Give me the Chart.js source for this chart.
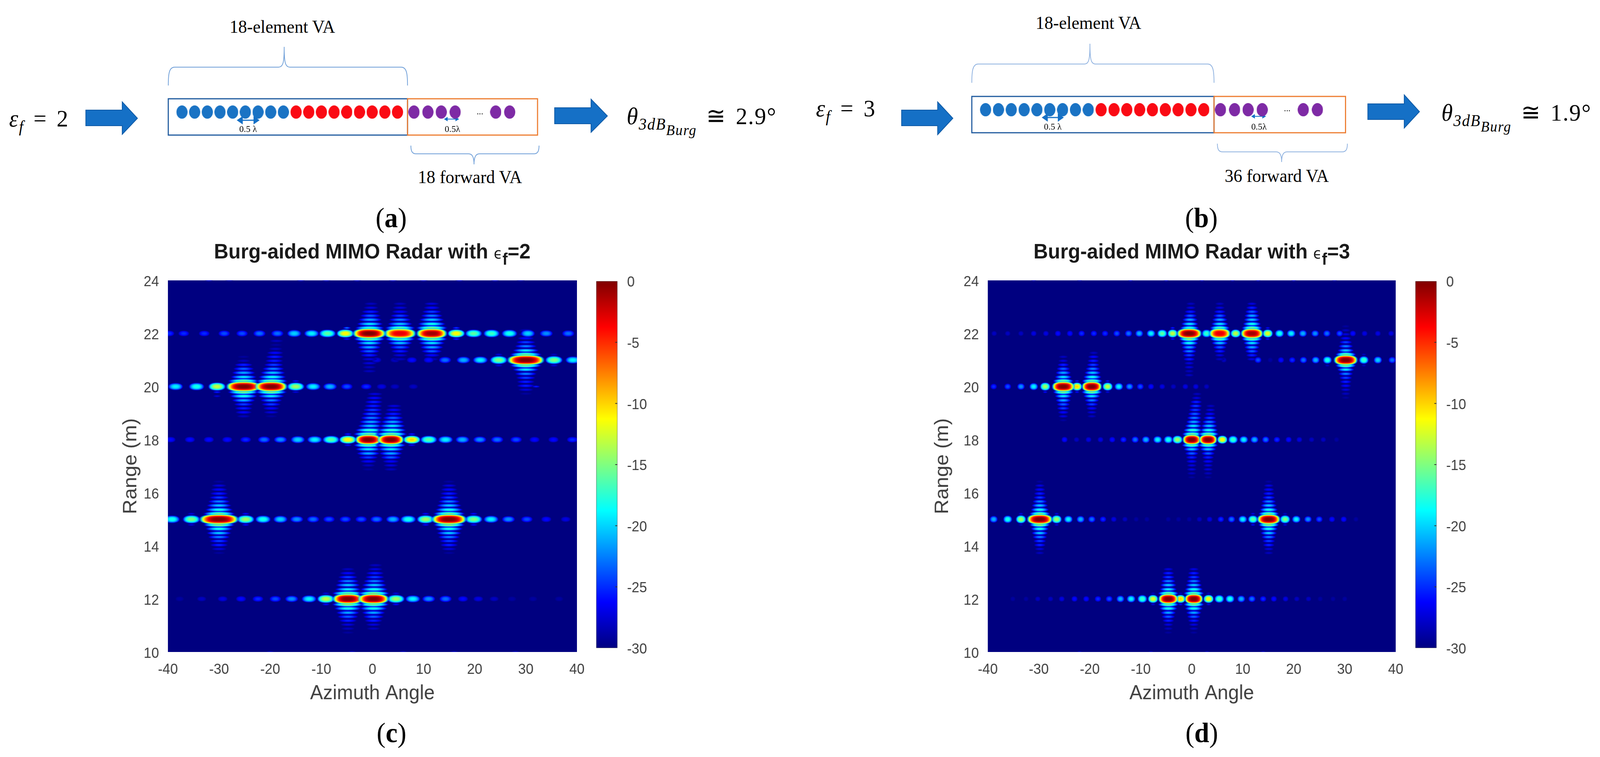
<!DOCTYPE html>
<html>
<head>
<meta charset="utf-8">
<title>Burg-aided MIMO Radar</title>
<script src="https://cdn.jsdelivr.net/npm/chart.js@4/dist/chart.umd.min.js"></script>
<style>
html,body{margin:0;background:#fff;overflow:hidden}
#page{position:relative;width:4307px;height:1939px;overflow:hidden;background:#fff;transform-origin:0 0}
canvas{position:absolute}
svg{position:absolute;left:0;top:0}
.t{position:absolute;transform:translate(-50%,-50%);white-space:nowrap;font-family:"Liberation Serif",serif;color:#000;line-height:1}
.l{transform:translateY(-50%)}
.title{font-family:"Liberation Sans",sans-serif;font-weight:bold;font-size:54px;color:#1a1a1a}
.title i{font-family:"DejaVu Sans",sans-serif;font-style:normal;font-weight:normal;font-size:38px}
.title sub{font-size:42px;line-height:0;vertical-align:-16px}
.math{font-size:62px;letter-spacing:2px;word-spacing:8px}
.math sub{font-size:42px;line-height:0;vertical-align:-14px;font-style:italic}
.math sub sub{font-size:38px;vertical-align:-14px}
.va{font-size:47px}
.cap{font-size:72px}
.small{font-size:24px}
</style>
</head>
<body>
<div id="page">
<svg width="4307" height="1939" fill="none">
  <!-- panel a -->
  <path d="M453 219C453 190 455 172 470 172H750C762 172 765 160 765 120C765 160 768 172 780 172H1080C1095 172 1097 190 1097 219" stroke="#6f9fd8" stroke-width="2"/>
  <path d="M1106 373C1106 388 1110 394 1120 394H1262C1272 394 1276 405 1276 421C1276 405 1280 394 1290 394H1437C1447 394 1451 388 1451 373" stroke="#6f9fd8" stroke-width="2"/>
  <rect x="453" y="253" width="644" height="93" stroke="#1f5a9e" stroke-width="3"/>
  <rect x="1097" y="253" width="350" height="93" stroke="#ed7d31" stroke-width="3"/>
  <path d="M231 282H329V261L370 303L329 344V322H231Z" fill="#1570c6" stroke="#0f5aa6" stroke-width="2"/>
  <path d="M1493 276H1591V254L1635 297L1591 339V317H1493Z" fill="#1570c6" stroke="#0f5aa6" stroke-width="2"/>
  <path d="M640 308H696M640 308L652 300V316ZM696 308L684 300V316Z" stroke="#1570c6" stroke-width="3" fill="#1570c6"/>
  <path d="M1197 305H1234M1197 305L1204 301V309ZM1234 305L1227 301V309Z" stroke="#1570c6" stroke-width="2" fill="#1570c6"/>
  <!-- panel b -->
  <path d="M2616 212C2616 183 2618 164 2633 164H2920C2931 164 2934 152 2934 112C2934 152 2937 164 2948 164H3251C3266 164 3268 183 3268 212" stroke="#8fb2e0" stroke-width="2"/>
  <path d="M3277 368C3277 383 3281 389 3291 389H3436C3446 389 3450 400 3450 415C3450 400 3454 389 3464 389H3613C3623 389 3627 383 3627 368" stroke="#8fb2e0" stroke-width="2"/>
  <rect x="2616" y="247" width="652" height="93" stroke="#1f5a9e" stroke-width="3"/>
  <rect x="3268" y="247" width="354" height="93" stroke="#ed7d31" stroke-width="3"/>
  <path d="M2427 282H2524V261L2565 303L2524 345V322H2427Z" fill="#1570c6" stroke="#0f5aa6" stroke-width="2"/>
  <path d="M3682 266H3780V243L3821 286L3780 328V306H3682Z" fill="#1570c6" stroke="#0f5aa6" stroke-width="2"/>
  <path d="M2807 301H2861M2807 301L2819 293V309ZM2861 301L2849 293V309Z" stroke="#1570c6" stroke-width="3" fill="#1570c6"/>
  <path d="M3370 298H3406M3370 298L3377 294V302ZM3406 298L3399 294V302Z" stroke="#1570c6" stroke-width="2" fill="#1570c6"/>
</svg>

<canvas id="arrayA" width="994" height="93" style="left:453px;top:253px"></canvas>
<canvas id="arrayB" width="1006" height="93" style="left:2616px;top:247px"></canvas>
<canvas id="heatC" width="1273" height="1130" style="left:320px;top:680px"></canvas>
<canvas id="barC" width="170" height="1020" style="left:1600px;top:680px"></canvas>
<canvas id="heatD" width="1292" height="1130" style="left:2505px;top:680px"></canvas>
<canvas id="barD" width="170" height="1020" style="left:3805px;top:680px"></canvas>

<div class="t va" style="left:760px;top:68px">18-element VA</div>
<div class="t va" style="left:1265px;top:453px">18 forward VA</div>
<div class="t math" style="left:105px;top:303px"><i>ε<sub>f</sub></i> = 2</div>
<div class="t l math" style="left:1687px;top:299px"><i>θ<sub>3dB<sub>Burg</sub></sub></i> ≅ 2.9°</div>
<div class="t small" style="left:668px;top:330px">0.5 λ</div>
<div class="t small" style="left:1218px;top:330px">0.5λ</div>
<div class="t small" style="left:1292px;top:285px">...</div>
<div class="t cap" style="left:1053px;top:558px">(<b>a</b>)</div>

<div class="t va" style="left:2930px;top:58px">18-element VA</div>
<div class="t va" style="left:3437px;top:450px">36 forward VA</div>
<div class="t math" style="left:2277px;top:277px"><i>ε<sub>f</sub></i> = 3</div>
<div class="t l math" style="left:3880px;top:290px"><i>θ<sub>3dB<sub>Burg</sub></sub></i> ≅ 1.9°</div>
<div class="t small" style="left:2834px;top:324px">0.5 λ</div>
<div class="t small" style="left:3389px;top:324px">0.5λ</div>
<div class="t small" style="left:3465px;top:277px">...</div>
<div class="t cap" style="left:3234px;top:558px">(<b>b</b>)</div>

<div class="t title" style="left:1002px;top:643px">Burg-aided MIMO Radar with <i>ϵ</i><sub>f</sub>=2</div>
<div class="t title" style="left:3208px;top:643px">Burg-aided MIMO Radar with <i>ϵ</i><sub>f</sub>=3</div>
<div class="t cap" style="left:1054px;top:1877px">(<b>c</b>)</div>
<div class="t cap" style="left:3235px;top:1877px">(<b>d</b>)</div>
</div>

<script>
// the window can be narrower than the 4307px layout, squeeze to fit
if(innerWidth<4307) document.getElementById('page').style.transform=`scaleX(${innerWidth/4307})`;

// tick labels
const azimuthTicks = [-40,-30,-20,-10,0,10,20,30,40];
const rangeTicks = [10,12,14,16,18,20,22,24];
const dbTicks = [-30,-25,-20,-15,-10,-5,0];
const colorRange = [-30,0];

// array elements (position in half wavelength steps)
const blueElements = [0,1,2,3,4,5,6,7,8];
const redElements = [9,10,11,12,13,14,15,16,17];
const purpleElements = [18.3,19.4,20.45,21.55,24.75,25.85];

// stripes above and below a peak sit at these range offsets (m)
const fringeOffsets = [0.21,0.36,0.52,0.67,0.82,0.97,1.12,1.27,1.42,1.57,1.72,1.87];

// panel c, side lobes on each range line: [azimuth, dB]
const lobesC22 = [[-39.8,-25],[-36.9,-25],[-32.9,-25],[-29,-24],[-25.5,-24],[-22.1,-23],[-18.6,-23],[-15.3,-20],[-11.9,-19],[-8.8,-16],[-5.3,-11],[16.4,-11],[19.8,-16],[23.3,-17],[26.8,-18],[30.4,-20],[34,-22],[38.3,-23]];
const lobesC21 = [[0.8,-27],[4.4,-28],[7.7,-26],[11,-26],[14.2,-23],[17.8,-21],[21.1,-19],[24.7,-15],[35.5,-15],[39.2,-19]];
const lobesC20 = [[-38.5,-19],[-34.4,-18],[-30.4,-13],[-15,-14],[-11.6,-19],[-8.3,-21],[-5,-24],[-1.2,-25],[1.8,-27],[4.4,-28],[8,-28]];
const lobesC18 = [[-39.5,-26],[-35.7,-26],[-32,-26],[-28.4,-26],[-24.8,-25],[-21.2,-23],[-18,-22],[-14.6,-20],[-11.3,-19],[-8.1,-16],[-4.8,-11],[7.7,-10],[11,-16],[14.3,-19],[17.6,-21],[21,-22],[24.4,-23],[28.1,-24],[31.7,-26],[35.4,-26],[39.1,-25]];
const lobesC15 = [[-39.2,-18],[-35.4,-15],[-24.8,-14],[-21.4,-18],[-18,-20],[-14.8,-22],[-11.6,-23],[-8.5,-24],[-5.3,-24],[-2.2,-24],[0.8,-23],[4,-21],[7,-18],[10.4,-14],[19.8,-15],[23.2,-19],[26.6,-22],[30.2,-24],[34,-26],[37.8,-27]];
const lobesC12 = [[-37.7,-29],[-33.4,-28],[-29.3,-27],[-25.7,-26],[-22.4,-25],[-19,-24],[-15.8,-22],[-12.4,-19],[-9.1,-13],[4.6,-14],[7.9,-19],[11,-22],[14.3,-23],[17.7,-26],[20.7,-27],[23.8,-28],[27.3,-29],[31.4,-29],[36.5,-29]];

// panel c, peaks: [azimuth, range, dB, lobe width in degrees, stripes above, stripes below, stripe drift in deg per m]
const peaksC = [
  [-0.6,22,0,5.6,[-17,-19,-21,-23,-25,-27,-28],[-15,-19,-21,-23,-25,-27,-27,-28,-28],0.3],
  [5.4,22,-3,5.4,[-16,-20,-22,-24,-26,-27,-28],[-16,-20,-23,-25,-27,-28],0],
  [11.6,22,-1,5.2,[-15,-18,-20,-22,-24,-26,-27],[-15,-19,-21,-23,-26,-28],0],
  [30,21,0,6.2,[-15,-19,-22,-24,-26,-27,-28],[-15,-19,-22,-24,-25,-25,-27,-29],0],
  [-25.2,20,0,5.8,[-15,-19,-21,-23,-25,-28,-29],[-15,-18,-21,-24,-25,-26,-28],0],
  [-19.8,20,0,5.4,[-15,-18,-20,-22,-24,-25,-25,-26,-28,-29,-28],[-15,-19,-22,-24,-26,-27,-29],0.6],
  [-0.8,18,0,4.4,[-15,-17,-20,-21,-22,-23,-24,-25,-25,-26,-27],[-16,-19,-21,-24,-26,-28,-29],0.75],
  [3.6,18,0,4.4,[-15,-17,-19,-21,-23,-25,-26,-27],[-16,-19,-21,-23,-26,-27,-28],0.5],
  [-30,15,0,6.6,[-15,-18,-20,-22,-24,-25,-26,-27,-29],[-14,-18,-20,-22,-24,-25,-27,-29],0],
  [15,15,0,5.9,[-15,-18,-20,-22,-24,-25,-26,-27,-29],[-14,-18,-20,-22,-24,-25,-27,-29],0],
  [-4.8,12,0,5.1,[-15,-19,-20,-22,-24,-26,-28],[-14,-18,-21,-23,-25,-27,-28,-29],0],
  [0.2,12,0,5.2,[-14,-18,-20,-22,-24,-25,-27,-28],[-15,-18,-21,-23,-25,-27,-28],0.3]
];

// panel c, small marks away from the lines: [azimuth, range, dB]
const specklesC = [[-35.4,15.21,-27],[-35.4,14.79,-27],[-24.8,15.21,-26],[-24.8,14.79,-26],[10.4,15.21,-26],[10.4,14.79,-26],[19.8,15.21,-26],[19.8,14.79,-26],[-9.1,12.21,-27],[4.6,12.21,-27],[-9.1,11.79,-26],[4.6,11.79,-26],[-5,22.21,-22],[-5,21.79,-26],[16.4,22.21,-24],[16.4,21.79,-25],[-30.4,19.79,-25],[-30.4,19.64,-27],[-15,20.21,-26],[-15,19.79,-27],[32,20,-25],[29.5,19.88,-28],[-4.8,18.21,-25],[7.7,18.21,-25],[-4.8,17.79,-26],[7.7,17.79,-26],[35.5,21.21,-28],[24.7,21.21,-27],[35.5,20.79,-27],[24.7,20.79,-27],
  [-32,24,-27],[-28,24,-28],[-14,24,-27],[-9,24,-27],[-3,24,-27],[4,24,-27],[10,24,-27],[17,24,-27],[24,24,-27],[29,24,-28],[-20,10,-28],[-4,10,-28],[6,10,-28],[16,10,-28],[28,10,-28]];

// panel d, side lobes: [azimuth, dB]
const lobesD22 = [[-38.75,-28],[-36.1,-28],[-33.5,-28],[-31,-27],[-28.6,-27],[-26.25,-26],[-23.9,-26],[-21.6,-25],[-19.2,-25],[-17,-25],[-14.7,-24],[-12.4,-23],[-10.3,-21],[-8,-19],[-5.8,-16],[-3.75,-13],[2.9,-17],[8.6,-13],[14.9,-12],[17.2,-18],[19.5,-19],[21.8,-21],[24.2,-22],[26.5,-23],[29,-24],[31.6,-26],[33.9,-27],[36.5,-27],[39.1,-27]];
const lobesD21 = [[6.3,-28],[13,-24],[15.4,-29],[17.5,-26],[19.7,-25],[21.9,-23],[24.3,-21],[26.6,-18],[33.75,-17],[36.5,-20],[39.3,-23]];
const lobesD20 = [[-38.85,-25],[-36.1,-24],[-33.5,-22],[-31,-19],[-28.75,-14],[-22.5,-10],[-16.5,-13],[-14.3,-19],[-12.2,-22],[-10.1,-24],[-8,-26],[-5.8,-27],[-3.6,-28],[-1.25,-27],[0.8,-27],[2.9,-28]];
const lobesD18 = [[-24.95,-26],[-22.6,-28],[-20.25,-27],[-17.9,-27],[-15.6,-26],[-13.4,-25],[-11.1,-23],[-9,-21],[-6.7,-19],[-4.6,-18],[-2.8,-14],[6,-11],[8.1,-17],[10.2,-19],[12.3,-21],[14.5,-23],[16.7,-25],[19,-26],[21.1,-27],[23.5,-28],[25.8,-28],[28.4,-29]];
const lobesD15 = [[-38.85,-21],[-36.1,-18],[-33.5,-14],[-26.5,-14],[-24.2,-19],[-21.8,-21],[-19.6,-23],[-17.4,-25],[-15.3,-27],[-13.1,-28],[-10.9,-29],[-8.8,-29],[-4.6,-29],[-2.6,-29],[-0.5,-29],[1.5,-28],[3.5,-27],[5.7,-25],[7.8,-23],[10,-19],[12,-16],[18.3,-15],[20.5,-19],[22.8,-22],[25,-24],[27.5,-26],[29.8,-26],[32.2,-29]];
const lobesD12 = [[-35.1,-29],[-32.5,-29],[-30.2,-28],[-27.7,-28],[-25.5,-27],[-23,-26],[-20.7,-26],[-18.4,-25],[-16.2,-24],[-14,-21],[-11.9,-19],[-9.7,-17],[-7.6,-12],[-2.2,-10],[3.3,-11],[5.4,-17],[7.5,-18],[9.7,-21],[11.8,-23],[14,-25],[16.1,-26],[18.4,-27],[20.6,-28],[22.9,-28],[25.2,-29],[27.7,-29],[30,-29]];

const peaksD = [
  [-0.5,22,0,4.2,[-17,-19,-21,-23,-25,-27,-28],[-14,-18,-21,-22,-24,-25,-27,-27,-28,-28],0.3],
  [5.5,22,-3,3.6,[-16,-19,-21,-23,-25,-27,-28],[-16,-20,-23,-25,-27,-28],0],
  [11.8,22,-1,3.8,[-15,-18,-20,-21,-23,-25,-27],[-15,-19,-21,-23,-25,-27],0],
  [30.2,21,0,4,[-15,-20,-22,-24,-26,-27,-28,-29],[-15,-19,-22,-24,-25,-26,-27,-28,-29],0],
  [-25.2,20,0,3.8,[-15,-19,-21,-23,-25,-27,-28],[-15,-19,-21,-23,-24,-26,-27,-29],0],
  [-19.6,20,0,3.4,[-15,-18,-20,-22,-24,-25,-26,-28],[-15,-19,-22,-24,-26,-27,-28],0.3],
  [0,18,0,3.1,[-15,-17,-19,-21,-22,-23,-24,-24,-25,-27,-28],[-16,-20,-23,-25,-26,-27,-27,-28,-29],0.6],
  [3.2,18,0,3,[-15,-18,-20,-22,-24,-26,-27,-28],[-16,-20,-23,-25,-26,-27,-27,-28,-29],0.4],
  [-29.8,15,0,4.3,[-15,-18,-20,-22,-24,-25,-26,-27,-29],[-14,-18,-20,-22,-24,-25,-27,-28],0],
  [15.1,15,0,3.9,[-15,-18,-20,-22,-24,-25,-26,-27,-29],[-14,-18,-20,-22,-24,-25,-27,-28],0],
  [-4.6,12,0,3.3,[-15,-19,-20,-22,-24,-25,-27],[-15,-18,-21,-23,-25,-27,-28,-29],0],
  [0.4,12,0,3.1,[-15,-18,-20,-22,-24,-25,-27],[-15,-18,-21,-23,-25,-27,-28,-29],0]
];

const specklesD = [[-33.5,15.21,-27],[-26.5,15.21,-27],[-33.5,14.79,-28],[-26.5,14.79,-27],[12,15.21,-27],[18.3,15.21,-28],[12,14.79,-26],[18.3,14.79,-27],[-7.6,12.21,-28],[3.3,12.21,-28],[-2.2,12.21,-28],[-7.6,11.79,-27],[3.3,11.79,-27],[-2.2,11.79,-26],[-28.75,19.79,-26],[-22.5,20.21,-26],[-22.5,19.79,-26],[-16.5,20.21,-26],[-16.5,19.79,-27],[-3.75,22.21,-25],[14.9,22.21,-26],[14.9,21.79,-26],[-3.75,21.79,-26],[33.75,21.21,-28],[26.6,20.79,-28],[33.75,20.79,-28],
  [-31,24,-28],[-22,24,-28],[-12,24,-27],[-5,24,-27],[2,24,-27],[8,24,-27],[13,24,-27],[20,24,-27],[28,24,-28],[-22,10,-28],[-8,10,-28],[3,10,-28],[14,10,-28]];

const rowRanges = [22,21,20,18,15,12];
const rowsC = [lobesC22,lobesC21,lobesC20,lobesC18,lobesC15,lobesC12];
const rowsD = [lobesD22,lobesD21,lobesD20,lobesD18,lobesD15,lobesD12];

const clamp = v => Math.max(0,Math.min(1,v));
function jet(db){
  const t = clamp((db+30)/30);
  return [clamp(1.5-Math.abs(4*t-3)),clamp(1.5-Math.abs(4*t-2)),clamp(1.5-Math.abs(4*t-1))].map(c=>Math.round(c*255));
}
const navy = `rgb(${jet(-30).join(',')})`;

// points for a panel, weakest first so strong lobes end up on top
function buildMarks(rows, peaks, speckles){
  const marks = [];
  rows.forEach((row,i)=>row.forEach(([az,db])=>marks.push({x:az,y:rowRanges[i],v:db,kind:'lobe'})));
  peaks.forEach(([az,rng,db,width,up,down,drift])=>{
    marks.push({x:az,y:rng,v:db,kind:'peak',deg:width});
    up.forEach((s,i)=>marks.push({x:az+drift*fringeOffsets[i],y:rng+fringeOffsets[i],v:s,kind:'fringe'}));
    down.forEach((s,i)=>marks.push({x:az,y:rng-fringeOffsets[i],v:s,kind:'fringe'}));
  });
  speckles.forEach(([az,rng,db])=>marks.push({x:az,y:rng,v:db,kind:'speck'}));
  return marks.sort((a,b)=>a.v-b.v);
}

// little image of one blob, same contour colours as the colorbar
const spriteCache = {};
function sprite(w,h,v,power,falloff){
  w = Math.max(4,Math.round(w)); h = Math.max(4,Math.round(h));
  const key = [w,h,v,power,falloff].join('_');
  if(spriteCache[key]) return spriteCache[key];
  const c = document.createElement('canvas'); c.width=w; c.height=h;
  const g = c.getContext('2d'); const img = g.createImageData(w,h);
  for(let j=0;j<h;j++) for(let i=0;i<w;i++){
    const dx = Math.abs((i+.5)/w*2-1), dy = Math.abs((j+.5)/h*2-1);
    const d = Math.pow(Math.pow(dx,power)+Math.pow(dy,power),1/power);
    if(d>=1) continue;
    const rgb = jet(v+(-30-v)*Math.pow(d,falloff));
    const k = (j*w+i)*4;
    img.data[k]=rgb[0]; img.data[k+1]=rgb[1]; img.data[k+2]=rgb[2];
    img.data[k+3]=Math.round(255*Math.min(1,(1-d)/.2));
  }
  g.putImageData(img,0,0);
  return spriteCache[key]=c;
}

function markStyle(m, pxPerDeg, lobeBase, fringeBase){
  const s = clamp((m.v+30)/15);
  if(m.kind==='peak') return sprite(m.deg*pxPerDeg*1.25,28,m.v,2.6,3.2);
  if(m.kind==='lobe') return sprite(lobeBase*(.5+.6*s),13+10*s,m.v,2.2,2.5);
  if(m.kind==='fringe') return sprite(fringeBase*(.4+.7*s),7+6*s,m.v,2,1.8);
  return sprite(lobeBase*.5,6,m.v,2,1.6);
}

const heatBackground = {id:'heatBackground',beforeDatasetsDraw(chart){
  const a = chart.chartArea, c = chart.ctx;
  c.save(); c.fillStyle=navy; c.fillRect(a.left,a.top,a.width,a.height); c.restore();
}};

const tickFont = {family:'"Liberation Sans",sans-serif',size:37};
const labelFont = {family:'"Liberation Sans",sans-serif',size:52};
const grey = '#404040';

function heatChart(id, marks, yWidth, lobeBase, fringeBase){
  return new Chart(document.getElementById(id),{
    type:'scatter',
    data:{datasets:[{data:marks,showLine:false,clip:0,pointRadius:1,
      pointStyle:ctx=>ctx.raw?markStyle(ctx.raw,13.75,lobeBase,fringeBase):'circle'}]},
    plugins:[heatBackground],
    options:{responsive:false,animation:false,devicePixelRatio:1,
      layout:{padding:{top:29,right:40,left:0,bottom:0}},
      plugins:{legend:{display:false},tooltip:{enabled:false}},
      scales:{
        x:{type:'linear',min:-40,max:40,grid:{display:false},border:{display:false},
          afterBuildTicks:s=>{s.ticks=azimuthTicks.map(v=>({value:v}))},
          afterFit:s=>{s.height=140},
          ticks:{font:tickFont,color:grey,padding:16,maxRotation:0,autoSkip:false},
          title:{display:true,text:'Azimuth Angle',font:labelFont,color:grey,padding:{top:0,bottom:2}}},
        y:{type:'linear',min:10,max:24,grid:{display:false},border:{display:false},
          afterBuildTicks:s=>{s.ticks=rangeTicks.map(v=>({value:v}))},
          afterFit:s=>{s.width=yWidth},
          ticks:{font:tickFont,color:grey,padding:16,labelOffset:5,autoSkip:false},
          title:{display:true,text:'Range (m)',font:labelFont,color:grey,padding:{top:1,bottom:0}}}
      }
    }
  });
}

// colorbar: one floating bar over the dB axis, painted with the jet ramp
function jetGradient(ctx){
  const chart = ctx.chart, y = chart.scales.y;
  if(!chart.chartArea || !y) return navy;
  const g = chart.ctx.createLinearGradient(0,y.getPixelForValue(-30),0,y.getPixelForValue(0));
  [0,.125,.375,.5,.625,.875,1].forEach(t=>g.addColorStop(t,`rgb(${jet(-30+t*30).join(',')})`));
  return g;
}

const barTicks = {id:'barTicks',afterDatasetsDraw(chart){
  const a = chart.chartArea, c = chart.ctx, y = chart.scales.y;
  c.save(); c.strokeStyle='#333'; c.lineWidth=2;
  dbTicks.slice(1,-1).forEach(v=>{
    const p = y.getPixelForValue(v);
    c.beginPath(); c.moveTo(a.right-6,p); c.lineTo(a.right,p); c.stroke();
  });
  c.restore();
}};

function colorBar(id, left){
  return new Chart(document.getElementById(id),{
    type:'bar',
    data:{labels:['dB'],datasets:[{data:[colorRange],backgroundColor:jetGradient,borderColor:'#333',borderWidth:1,borderSkipped:false,barPercentage:1,categoryPercentage:1}]},
    plugins:[barTicks],
    options:{responsive:false,animation:false,devicePixelRatio:1,
      layout:{padding:{top:29,bottom:30,left:left,right:0}},
      plugins:{legend:{display:false},tooltip:{enabled:false}},
      scales:{
        x:{display:false},
        y:{type:'linear',position:'right',min:-30,max:0,grid:{display:false},border:{display:false},
          afterBuildTicks:s=>{s.ticks=dbTicks.map(v=>({value:v}))},
          afterFit:s=>{s.width=108},
          ticks:{font:tickFont,color:grey,padding:18,labelOffset:4,autoSkip:false}}
      }
    }
  });
}

// slightly tall dots of the array sketches
function elementDot(color){
  const c = document.createElement('canvas'); c.width=30; c.height=34;
  const g = c.getContext('2d');
  g.fillStyle=color; g.beginPath(); g.ellipse(15,17,15,17,0,0,Math.PI*2); g.fill();
  return c;
}

function arrayChart(id){
  const row = list => list.map(v=>({x:v,y:0.71}));
  const set = (list,color)=>({data:row(list),pointStyle:elementDot(color),pointRadius:16,clip:false,showLine:false});
  return new Chart(document.getElementById(id),{
    type:'scatter',
    data:{datasets:[set(blueElements,'#1a73c4'),set(redElements,'#fa0a14'),set(purpleElements,'#7e2aa5')]},
    options:{responsive:false,animation:false,devicePixelRatio:1,
      plugins:{legend:{display:false},tooltip:{enabled:false}},
      scales:{x:{display:false,min:-0.58,max:27.55},y:{display:false,min:0,max:1}}}
  });
}

arrayChart('arrayA'); arrayChart('arrayB');
heatChart('heatC',buildMarks(rowsC,peaksC,specklesC),132,46,82);
heatChart('heatD',buildMarks(rowsD,peaksD,specklesD),154,27,54);
colorBar('barC',5);
colorBar('barD',5);
</script>
</body>
</html>
